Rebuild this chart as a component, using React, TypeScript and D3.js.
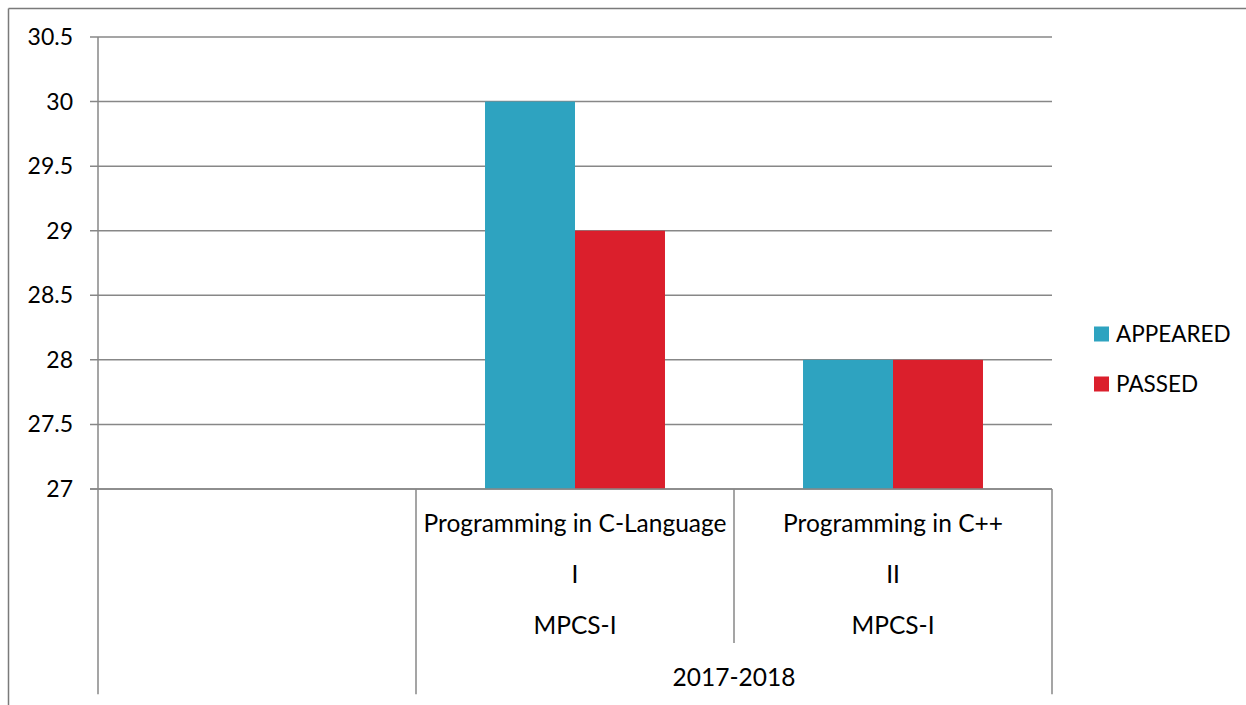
import * as d3 from 'd3';

// categories (first slot is empty in the source chart)
const subjects = ['', 'Programming in C-Language', 'Programming in C++'];
const semesters = ['', 'I', 'II'];
const classes = ['', 'MPCS-I', 'MPCS-I'];
const yearGroups = [
  { label: '', from: 0, to: 0 },
  { label: '2017-2018', from: 1, to: 2 },
];
const seriesNames = ['APPEARED', 'PASSED'];
const appeared = [null, 30, 28];
const passed = [null, 29, 28];
const yTicks = [27, 27.5, 28, 28.5, 29, 29.5, 30, 30.5];

const colors = ['#2ea3c0', '#db1f2c'];
const FONT = 'Lato, "Open Sans", sans-serif';

function App() {
  const W = 1246;
  const H = 705;
  const left = 98;
  const right = 1052;
  const top = 37;
  const bottom = 489;
  const rowH = 51.3;

  const x = d3.scaleBand<number>().domain(d3.range(subjects.length)).range([left, right]);
  const inner = d3
    .scaleBand<string>()
    .domain(seriesNames)
    .range([0, x.bandwidth()])
    .paddingOuter(0.767);
  const y = d3.scaleLinear().domain([27, 30.5]).range([bottom, top]);

  const values = [appeared, passed];
  const rows = [subjects, semesters, classes];
  const gridColor = '#878787';

  return (
    <svg width={W} height={H} style={{ position: 'absolute', left: 0, top: 0 }} fontFamily={FONT}>
      <rect width={W} height={H} fill="#fff" />
      {/* outer frame */}
      <line x1={8.5} x2={W} y1={8.5} y2={8.5} stroke="#7a7a7a" strokeWidth={1.5} />
      <line x1={8.5} x2={8.5} y1={8.5} y2={H} stroke="#7a7a7a" strokeWidth={1.5} />

      {/* gridlines + y ticks */}
      {yTicks.map(t => (
        <g key={t}>
          <line x1={left - 8} x2={right} y1={y(t)} y2={y(t)} stroke={gridColor} strokeWidth={1.5} />
          <text x={73} y={y(t)} dy="0.35em" textAnchor="end" fontSize={23} fill="#000">
            {t}
          </text>
        </g>
      ))}

      {/* bars */}
      {values.map((vals, si) =>
        vals.map((v, ci) =>
          v == null ? null : (
            <rect
              key={`${si}-${ci}`}
              x={(x(ci) as number) + (inner(seriesNames[si]) as number)}
              width={inner.bandwidth()}
              y={y(v)}
              height={y(27) - y(v)}
              fill={colors[si]}
            />
          )
        )
      )}

      {/* axis lines */}
      <line x1={left} x2={left} y1={top} y2={bottom + rowH * 4} stroke={gridColor} strokeWidth={1.5} />
      <line x1={right} x2={right} y1={bottom} y2={bottom + rowH * 4} stroke={gridColor} strokeWidth={1.5} />
      <line x1={left - 8} x2={right} y1={bottom} y2={bottom} stroke={gridColor} strokeWidth={1.5} />

      {/* multi-level category axis */}
      {d3.range(1, subjects.length).map(ci => (
        <line
          key={`d${ci}`}
          x1={x(ci)}
          x2={x(ci)}
          y1={bottom}
          y2={bottom + rowH * (yearGroups.some(g => g.from === ci) ? 4 : 3)}
          stroke={gridColor}
          strokeWidth={1.5}
        />
      ))}
      {rows.map((row, ri) =>
        row.map((lab, ci) => (
          <text
            key={`r${ri}-${ci}`}
            x={(x(ci) as number) + x.bandwidth() / 2}
            y={bottom + rowH * ri + 42.5}
            textAnchor="middle"
            fontSize={24.5}
            fill="#000"
          >
            {lab}
          </text>
        ))
      )}
      {yearGroups.map((g, gi) => (
        <text
          key={`g${gi}`}
          x={((x(g.from) as number) + (x(g.to) as number) + x.bandwidth()) / 2}
          y={bottom + rowH * 3 + 43}
          textAnchor="middle"
          fontSize={24.5}
          fill="#000"
        >
          {g.label}
        </text>
      ))}

      {/* legend */}
      {seriesNames.map((s, i) => (
        <g key={s} transform={`translate(1094, ${326.5 + i * 50})`}>
          <rect width={15} height={15} fill={colors[i]} />
          <text x={22} y={15} fontSize={22.5} fill="#000">
            {s}
          </text>
        </g>
      ))}
    </svg>
  );
}

export default App;
